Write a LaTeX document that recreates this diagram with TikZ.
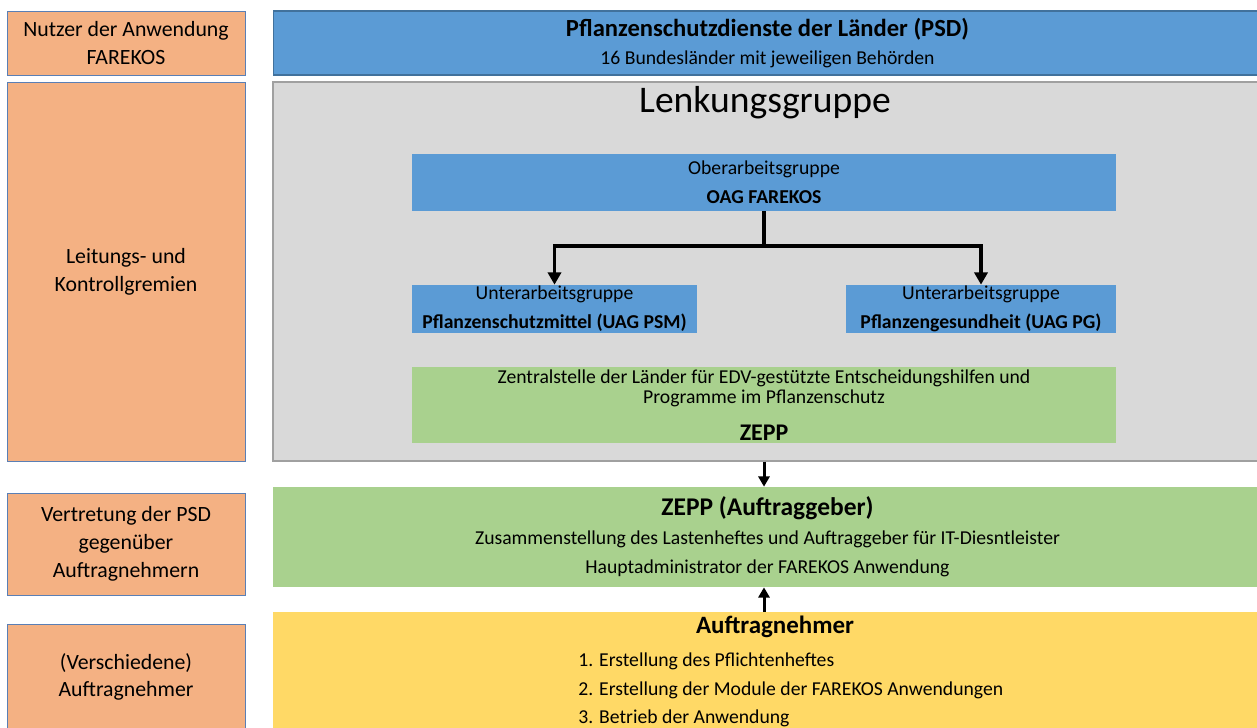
\documentclass[tikz,border=0pt]{standalone}
\usepackage{fontspec}
\setmainfont{Carlito}
\usetikzlibrary{arrows.meta, positioning}

\definecolor{orangeBox}{HTML}{F4B183}
\definecolor{blauBox}{HTML}{5B9BD5}
\definecolor{blauRand}{HTML}{41719C}
\definecolor{grauBox}{HTML}{D9D9D9}
\definecolor{grauRand}{HTML}{A0A0A0}
\definecolor{gruenBox}{HTML}{A9D18E}
\definecolor{gelbBox}{HTML}{FFD966}
\definecolor{seitenRand}{HTML}{5A7FB5}

\begin{document}
\begin{tikzpicture}[x=0.02cm, y=-0.02cm,
  seite/.style={draw=seitenRand, line width=0.5pt, fill=orangeBox, minimum width=4.76cm,
    align=center, inner sep=0pt, font=\fontsize{12.4}{15.8}\selectfont},
  blau/.style={fill=blauBox, align=center, inner sep=0pt, font=\fontsize{11.2}{16.4}\selectfont},
  gruen/.style={fill=gruenBox, align=center, inner sep=0pt},
  dick/.style={line width=2pt, -{Triangle[width=7.5pt,length=7pt]}},
  duenn/.style={line width=1.7pt, -{Triangle[width=6.3pt,length=5.8pt]}}]
  \useasboundingbox (0,0) rectangle (1257,727);
  % Linke Spalte
  \node[seite, minimum height=1.28cm] (nutzer) at (126,43) {Nutzer der Anwendung\\FAREKOS};
  \node[seite, minimum height=7.58cm] (leitung) at (126,271.5) {Leitungs- und\\Kontrollgremien};
  \node[seite, minimum height=2.04cm] (vertretung) at (126,544) {Vertretung der PSD\\gegenüber\\Auftragnehmern};
  \node[seite, minimum height=2.12cm] (verschiedene) at (126,677) {(Verschiedene)\\Auftragnehmer};
  % Rechte Spalte
  \node[blau, draw=blauRand, line width=0.6pt, minimum width=19.78cm, minimum height=1.28cm,
    font=\fontsize{11.2}{16.2}\selectfont] (psd) at (767.5,43)
    {{\fontsize{14}{16}\selectfont\bfseries Pflanzenschutzdienste der Länder (PSD)}\\16 Bundesländer mit jeweiligen Behörden};
  \node[fill=grauBox, draw=grauRand, line width=0.8pt, minimum width=19.78cm, minimum height=7.58cm] (lenkung) at (767.5,271.5) {};
  \node[font=\fontsize{21.4}{24}\selectfont, inner sep=0pt] (lenkTitel) at (765,103) {Lenkungsgruppe};
  \node[blau, minimum width=14.08cm, minimum height=1.14cm] (oag) at (764,182.5)
    {Oberarbeitsgruppe\\\textbf{OAG FAREKOS}};
  \node[blau, minimum width=5.70cm, minimum height=0.96cm] (psm) at (554.5,309)
    {Unterarbeitsgruppe\\\textbf{Pflanzenschutzmittel (UAG PSM)}};
  \node[blau, minimum width=5.40cm, minimum height=0.96cm] (pg) at (981,309)
    {Unterarbeitsgruppe\\\textbf{Pflanzengesundheit (UAG PG)}};
  \node[gruen, minimum width=14.08cm, minimum height=1.52cm, font=\fontsize{11.2}{11.4}\selectfont] (zepp) at (764,405)
    {Zentralstelle der Länder für EDV-gestützte Entscheidungshilfen und\\Programme im Pflanzenschutz\\[9.5pt]
     {\fontsize{13.6}{14}\selectfont\bfseries ZEPP}};
  \node[gruen, minimum width=19.78cm, minimum height=2.00cm, font=\fontsize{11.2}{16.5}\selectfont] (auftraggeber) at (767.5,537)
    {{\fontsize{14.5}{16}\selectfont\bfseries ZEPP (Auftraggeber)}\\
     Zusammenstellung des Lastenheftes und Auftraggeber für IT-Diesntleister\\
     Hauptadministrator der FAREKOS Anwendung};
  \node[fill=gelbBox, minimum width=19.78cm, minimum height=2.36cm] (auftragnehmer) at (767.5,671) {};
  \node[font=\fontsize{14.2}{16}\selectfont\bfseries, inner sep=0pt] (anTitel) at (775,627) {Auftragnehmer};
  \node[font=\fontsize{11.2}{16.2}\selectfont, align=left, anchor=west, inner sep=0pt] (anListe) at (578,690)
    {1. Erstellung des Pflichtenheftes\\2. Erstellung der Module der FAREKOS Anwendungen\\3. Betrieb der Anwendung};
  % Verbindungen
  \coordinate (verteiler) at (764,246);
  \draw[line width=2pt] (oag.south) -- (verteiler);
  \draw[dick] (verteiler) -| (psm.north);
  \draw[dick] (verteiler) -| (pg.north);
  \draw[duenn] (lenkung.south -| zepp.south) -- (auftraggeber.north -| zepp.south);
  \draw[duenn] (auftragnehmer.north -| zepp.south) -- (auftraggeber.south -| zepp.south);
\end{tikzpicture}
\end{document}
